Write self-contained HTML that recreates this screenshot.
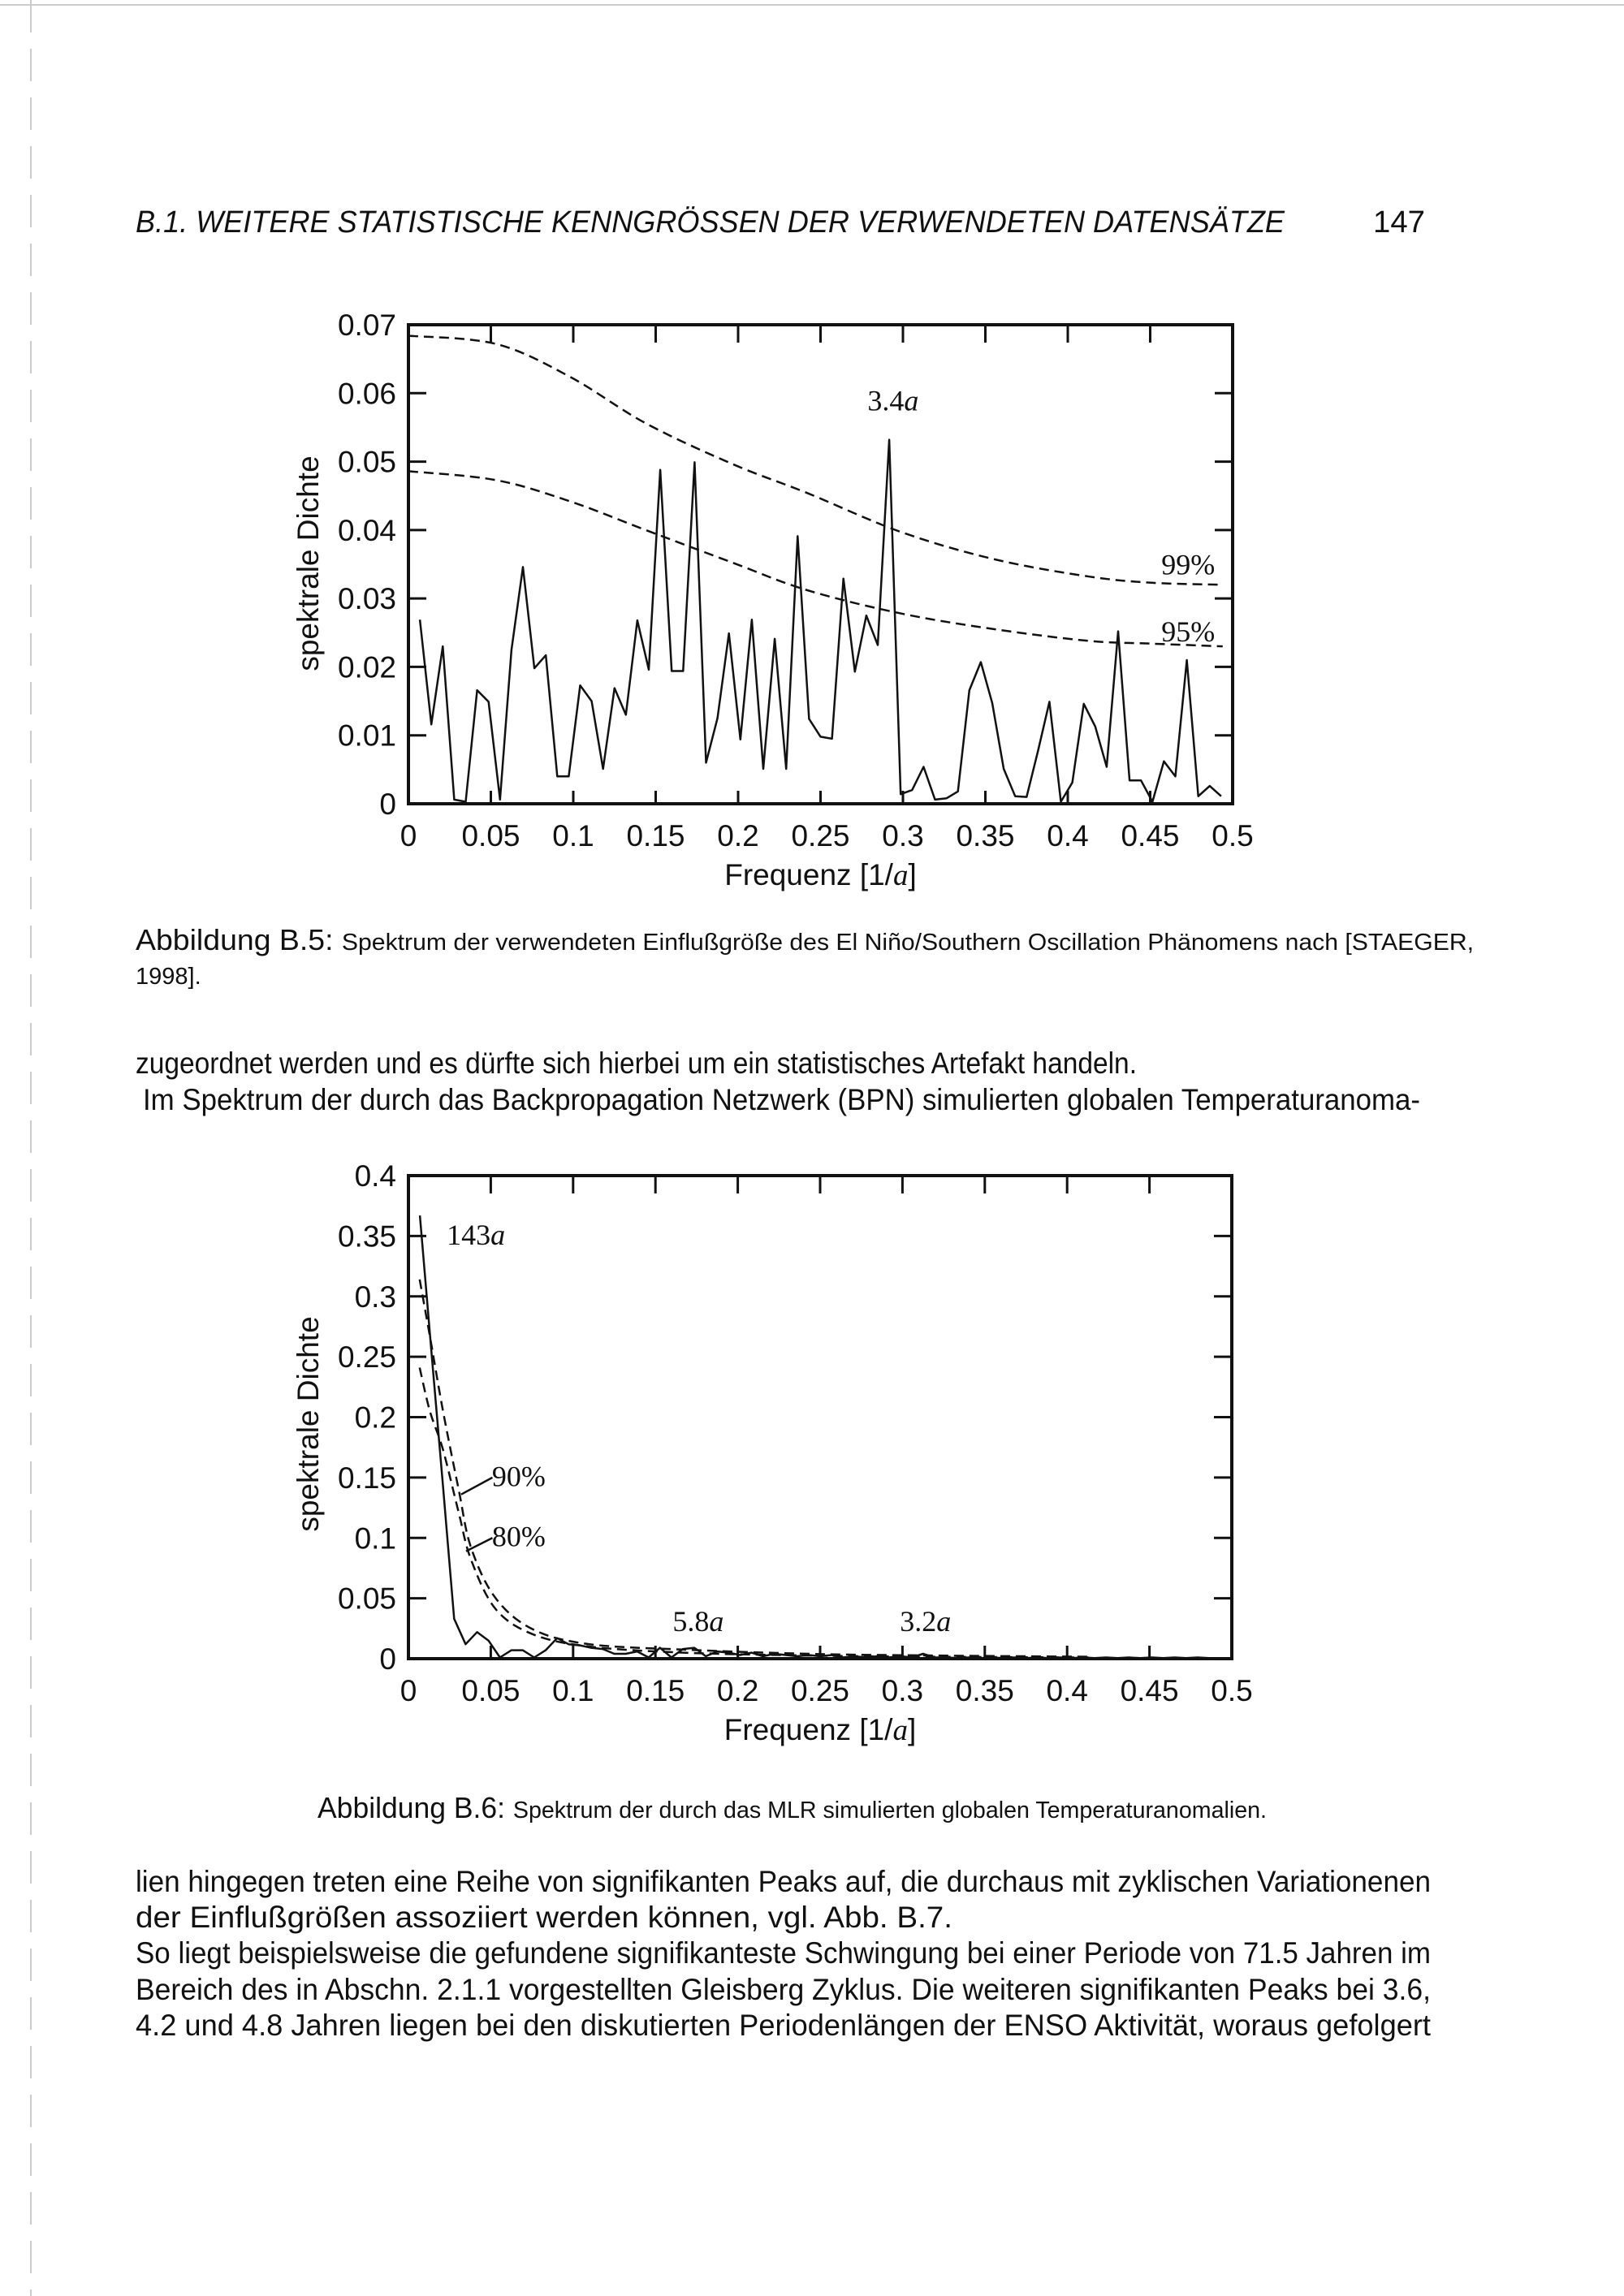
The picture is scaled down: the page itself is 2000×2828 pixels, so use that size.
<!DOCTYPE html>
<html><head><meta charset="utf-8"><style>
html,body{margin:0;padding:0;background:#fff}
svg{display:block}
.t{font-family:"Liberation Sans",sans-serif;fill:#111}
.s{font-family:"Liberation Serif",serif;fill:#111}
</style></head><body>
<svg id="page" width="2000" height="2828" viewBox="0 0 2000 2828" xmlns="http://www.w3.org/2000/svg">
<line x1="38" y1="0" x2="38" y2="2828" stroke="#ccc" stroke-width="2" stroke-dasharray="40 20"/>
<line x1="0" y1="6" x2="2000" y2="6" stroke="#ccc" stroke-width="2"/>
<text class="t" x="167" y="286" font-size="38" font-style="italic" textLength="1415" lengthAdjust="spacingAndGlyphs">B.1.  WEITERE STATISTISCHE KENNGRÖSSEN DER VERWENDETEN DATENSÄTZE</text>
<text class="t" x="1691" y="286" font-size="38" textLength="64" lengthAdjust="spacingAndGlyphs">147</text>

<g id="chart1"></g>

<text class="t" x="167" y="1170" font-size="36" textLength="1648" lengthAdjust="spacingAndGlyphs">Abbildung B.5: <tspan font-size="29">Spektrum der verwendeten Einflußgröße des El Niño/Southern Oscillation Phänomens nach [STAEGER,</tspan></text>
<text class="t" x="167" y="1212" font-size="29">1998].</text>
<text class="t" x="167" y="1322" font-size="37" textLength="1233" lengthAdjust="spacingAndGlyphs">zugeordnet werden und es dürfte sich hierbei um ein statistisches Artefakt handeln.</text>
<text class="t" x="176" y="1367" font-size="37" textLength="1573" lengthAdjust="spacingAndGlyphs">Im Spektrum der durch das Backpropagation Netzwerk (BPN) simulierten globalen Temperaturanoma-</text>

<g id="chart2"></g>

<text class="t" x="391" y="2239" font-size="36" textLength="1169" lengthAdjust="spacingAndGlyphs">Abbildung B.6: <tspan font-size="29">Spektrum der durch das MLR simulierten globalen Temperaturanomalien.</tspan></text>
<text class="t" x="167" y="2330" font-size="37" textLength="1595" lengthAdjust="spacingAndGlyphs">lien hingegen treten eine Reihe von signifikanten Peaks auf, die durchaus mit zyklischen Variationenen</text>
<text class="t" x="167" y="2374" font-size="37" textLength="1006" lengthAdjust="spacingAndGlyphs">der Einflußgrößen assoziiert werden können, vgl. Abb. B.7.</text>
<text class="t" x="167" y="2418" font-size="37" textLength="1595" lengthAdjust="spacingAndGlyphs">So liegt beispielsweise die gefundene signifikanteste Schwingung bei einer Periode von 71.5 Jahren im</text>
<text class="t" x="167" y="2463" font-size="37" textLength="1595" lengthAdjust="spacingAndGlyphs">Bereich des in Abschn. 2.1.1 vorgestellten Gleisberg Zyklus. Die weiteren signifikanten Peaks bei 3.6,</text>
<text class="t" x="167" y="2507" font-size="37" textLength="1595" lengthAdjust="spacingAndGlyphs">4.2 und 4.8 Jahren liegen bei den diskutierten Periodenlängen der ENSO Aktivität, woraus gefolgert</text>
</svg>
<script>
// ---- Chart 1 data ----
const c1Values = [0.0269,0.0116,0.0230,0.0006,0.0003,0.0166,0.0149,0.0006,0.0225,0.0346,0.0198,0.0217,0.0040,0.0040,0.0173,0.0150,0.0051,0.0169,0.0130,0.0268,0.0196,0.0488,0.0194,0.0194,0.0499,0.0060,0.0125,0.0249,0.0094,0.0269,0.0051,0.0241,0.0051,0.0391,0.0124,0.0098,0.0095,0.0329,0.0193,0.0275,0.0232,0.0532,0.0014,0.0020,0.0054,0.0006,0.0008,0.0018,0.0166,0.0207,0.0147,0.0051,0.0011,0.0010,0.0077,0.0149,0.0003,0.0031,0.0146,0.0113,0.0054,0.0252,0.0034,0.0034,0.0003,0.0062,0.0040,0.0210,0.0011,0.0026,0.0011];
const c1Sig99F = [0,0.053,0.098,0.144,0.197,0.242,0.299,0.356,0.413,0.451,0.494];
const c1Sig99V = [0.0684,0.0672,0.0624,0.0556,0.0496,0.0454,0.0397,0.0357,0.0332,0.0323,0.0320];
const c1Sig95V = [0.0486,0.0473,0.0442,0.0400,0.0352,0.0312,0.0278,0.0255,0.0238,0.0234,0.0230];
const c1YTicks = [0,0.01,0.02,0.03,0.04,0.05,0.06,0.07];
const c1YLabels = ["0","0.01","0.02","0.03","0.04","0.05","0.06","0.07"];
const xTicks = [0,0.05,0.1,0.15,0.2,0.25,0.3,0.35,0.4,0.45,0.5];
const xLabels = ["0","0.05","0.1","0.15","0.2","0.25","0.3","0.35","0.4","0.45","0.5"];
// ---- Chart 2 data ----
const c2Values = [0.367,0.255,0.145,0.033,0.012,0.022,0.015,0.001,0.007,0.007,0.001,0.007,0.017,0.012,0.011,0.009,0.008,0.004,0.004,0.006,0.001,0.009,0.001,0.008,0.009,0.002,0.006,0.005,0.003,0.005,0.002,0.004,0.003,0.002,0.003,0.002,0.003,0.001,0.002,0.001,0.002,0.001,0.002,0.001,0.004,0.001,0.001,0.0005,0.001,0.0005,0.001,0.0005,0.001,0.0005,0.001,0.0005,0.001,0.0005,0.001,0.0005,0.001,0.0005,0.001,0.0005,0.001,0.0005,0.001,0.0005,0.001,0.0005,0.0005];
const c2SigF = [0.0068,0.013,0.021,0.0305,0.038,0.053,0.076,0.110,0.167,0.243,0.319,0.413];
const c2Sig90V = [0.314,0.267,0.205,0.140,0.092,0.050,0.024,0.012,0.0075,0.004,0.0026,0.0016];
const c2Sig80V = [0.241,0.205,0.173,0.121,0.082,0.041,0.020,0.010,0.005,0.0026,0.0016,0.001];
const c2YTicks = [0,0.05,0.1,0.15,0.2,0.25,0.3,0.35,0.4];
const c2YLabels = ["0","0.05","0.1","0.15","0.2","0.25","0.3","0.35","0.4"];

const NS = "http://www.w3.org/2000/svg";
function mk(parent, tag, attrs, txt){
  const e = document.createElementNS(NS, tag);
  for (const k in attrs) e.setAttribute(k, attrs[k]);
  if (txt !== undefined) e.textContent = txt;
  parent.appendChild(e);
  return e;
}
function buildChart(gid, L, R, T, B, ymax, yTicks, yLabels, ylabelY) {
  const g = document.getElementById(gid);
  const sx = f => L + f/0.5*(R-L);
  const sy = v => B - v/ymax*(B-T);
  const frame = mk(g,'rect',{x:L,y:T,width:R-L,height:B-T,fill:'none',stroke:'#111','stroke-width':4});
  
  
  xTicks.forEach((t,i)=>{
    if (i>0 && i<xTicks.length-1){
      const a = mk(g,'line',{x1:sx(t),y1:T,x2:sx(t),y2:T+22,stroke:'#111','stroke-width':3});
      
      
      const b = mk(g,'line',{x1:sx(t),y1:B,x2:sx(t),y2:B-16,stroke:'#111','stroke-width':3});
      
      
    }
    const lb = mk(g,'text',{x:sx(t),y:B+52,'font-size':37,'text-anchor':'middle',class:'t'},xLabels[i]);
    
    
  });
  yTicks.forEach((t,i)=>{
    if (i>0 && i<yTicks.length-1){
      const a = mk(g,'line',{x1:L,y1:sy(t),x2:L+22,y2:sy(t),stroke:'#111','stroke-width':3});
      
      
      const b = mk(g,'line',{x1:R,y1:sy(t),x2:R-22,y2:sy(t),stroke:'#111','stroke-width':3});
      
      
    }
    const lb = mk(g,'text',{x:L-15,y:sy(t)+13,'font-size':37,'text-anchor':'end',class:'t'},yLabels[i]);
    
    
  });
  const xl = mk(g,'text',{x:(L+R)/2,y:B+100,'font-size':37,'text-anchor':'middle',class:'t'});
  
  
  xl.innerHTML = 'Frequenz [1/<tspan font-family="Liberation Serif" font-style="italic">a</tspan>]';
  const yl = mk(g,'text',{x:0,y:0,'font-size':37,'text-anchor':'middle',class:'t',transform:`translate(392,${ylabelY}) rotate(-90)`},'spektrale Dichte');
  
  
  return {g,sx,sy};
}
function polyline(c, fs, vs, dash, name){
  const pts = fs.map((f,i)=>c.sx(f).toFixed(1)+','+c.sy(vs[i]).toFixed(1)).join(' ');
  const attrs = {points:pts,fill:'none',stroke:'#111','stroke-width':2.5,'stroke-linejoin':'round'};
  if (dash) attrs['stroke-dasharray']=dash;
  const p = mk(c.g,'polyline',attrs);
  
  
  return p;
}
function smooth(c, fs, vs, dash, name){
  const P = fs.map((f,i)=>[c.sx(f), c.sy(vs[i])]);
  let d = 'M'+P[0][0].toFixed(1)+','+P[0][1].toFixed(1);
  for (let i=0;i<P.length-1;i++){
    const p0=P[Math.max(i-1,0)], p1=P[i], p2=P[i+1], p3=P[Math.min(i+2,P.length-1)];
    const c1x=p1[0]+(p2[0]-p0[0])/6, c1y=p1[1]+(p2[1]-p0[1])/6;
    const c2x=p2[0]-(p3[0]-p1[0])/6, c2y=p2[1]-(p3[1]-p1[1])/6;
    d += ` C${c1x.toFixed(1)},${c1y.toFixed(1)} ${c2x.toFixed(1)},${c2y.toFixed(1)} ${p2[0].toFixed(1)},${p2[1].toFixed(1)}`;
  }
  const p = mk(c.g,'path',{d:d,fill:'none',stroke:'#111','stroke-width':2.5,'stroke-dasharray':dash});
  
  
}
function label(c, f, v, html, name){
  const t = mk(c.g,'text',{x:c.sx(f),y:c.sy(v),'font-size':36,'text-anchor':'middle',class:'s'});
  t.innerHTML = html;
  
  
}
// Chart 1
const c1 = buildChart('chart1', 503, 1518, 400, 990, 0.07, c1YTicks, c1YLabels, 694);
const c1F = c1Values.map((v,i)=>(i+1)/144);
smooth(c1, c1Sig99F, c1Sig99V, '12 7', 'significance-99-line');
smooth(c1, c1Sig99F, c1Sig95V, '12 7', 'significance-95-line');
polyline(c1, c1F, c1Values, null, 'spectrum-line');
label(c1, 0.294, 0.0575, '3.4<tspan font-style="italic">a</tspan>', 'peak-label-3-4a');
label(c1, 0.473, 0.0335, '99%', 'label-99-percent');
label(c1, 0.473, 0.0237, '95%', 'label-95-percent');
// Chart 2
const c2 = buildChart('chart2', 503, 1517, 1448, 2043, 0.4, c2YTicks, c2YLabels, 1754);
const c2F = c2Values.map((v,i)=>(i+1)/144);
smooth(c2, c2SigF, c2Sig90V, '12 7', 'significance-90-line');
smooth(c2, c2SigF, c2Sig80V, '12 7', 'significance-80-line');
polyline(c2, c2F, c2Values, null, 'spectrum-line');
label(c2, 0.041, 0.343, '143<tspan font-style="italic">a</tspan>', 'peak-label-143a');
label(c2, 0.176, 0.023, '5.8<tspan font-style="italic">a</tspan>', 'peak-label-5-8a');
label(c2, 0.314, 0.023, '3.2<tspan font-style="italic">a</tspan>', 'peak-label-3-2a');
label(c2, 0.067, 0.143, '90%', 'label-90-percent');
label(c2, 0.067, 0.093, '80%', 'label-80-percent');
const a1 = mk(c2.g,'line',{x1:c2.sx(0.051),y1:c2.sy(0.150),x2:c2.sx(0.032),y2:c2.sy(0.136),stroke:'#111','stroke-width':2.5});


const a2 = mk(c2.g,'line',{x1:c2.sx(0.051),y1:c2.sy(0.100),x2:c2.sx(0.035),y2:c2.sy(0.089),stroke:'#111','stroke-width':2.5});


</script>
</body></html>
